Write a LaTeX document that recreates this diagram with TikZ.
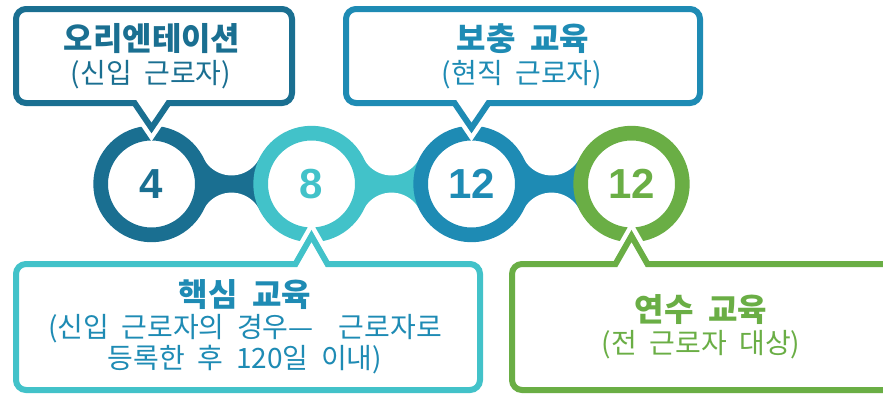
\documentclass[tikz,border=0pt]{standalone}
\usepackage{fontspec}
\setmainfont{Liberation Sans}
\newfontfamily\krfont[WordSpace=2]{Noto Sans CJK KR}
\usetikzlibrary{calc,backgrounds}
\definecolor{cnavy}{HTML}{1A6F91}
\definecolor{cteal}{HTML}{42C2C9}
\definecolor{cblue}{HTML}{1E8BB4}
\definecolor{cgreen}{HTML}{6AAE45}
\tikzset{
  ring/.style={circle, draw=#1, line width=14.7pt, fill=white, minimum size=101.7pt,
    inner sep=0pt, text=#1, font=\bfseries\fontsize{42}{42}\selectfont},
  bubble/.style={draw=#1, line width=6pt, fill=white, line join=miter,
    preaction={draw=white, line width=15pt}},
  headtext/.style={text=#1, font=\krfont\bfseries\fontsize{32}{32}\selectfont},
  subtext/.style={text=#1, font=\krfont\fontsize{28}{31}\selectfont, align=center},
  neck/.style={fill=#1},
  cut/.style={fill=white}
}
\begin{document}
\begin{tikzpicture}[x=1pt,y=-1pt]
    \useasboundingbox (0,0) rectangle (883,394);

    \node[ring=cnavy] (c1) at (151.5,184){4};
    \node[ring=cteal] (c2) at (311.5,184){8};
    \node[ring=cblue] (c3) at (471.5,184){12};
    \node[ring=cgreen] (c4) at (631.5,184){12};

    \begin{scope}[on background layer]
      \fill[neck=cnavy] ($(c1)+(52,-26)$) rectangle ($(c2)+(-52,26)$);
      \fill[neck=cteal] ($(c2)+(52,-26)$) rectangle ($(c3)+(-52,26)$);
      \fill[neck=cblue] ($(c3)+(52,-26)$) rectangle ($(c4)+(-52,26)$);
      \fill[cut] ($(c1)!.5!(c2)+(0,-40)$) circle[radius=31.4pt];
      \fill[cut] ($(c1)!.5!(c2)+(0,40)$) circle[radius=31.4pt];
      \fill[cut] ($(c2)!.5!(c3)+(0,-40)$) circle[radius=31.4pt];
      \fill[cut] ($(c2)!.5!(c3)+(0,40)$) circle[radius=31.4pt];
      \fill[cut] ($(c3)!.5!(c4)+(0,-40)$) circle[radius=31.4pt];
      \fill[cut] ($(c3)!.5!(c4)+(0,40)$) circle[radius=31.4pt];
    \end{scope}

    \draw[bubble=cnavy] ($(c1)+(0,-56)$) -- (134.5,103) -- (100,103) [rounded corners=10pt]
      -- (16,103) -- (16,9) -- (292,9) -- (292,103) -- (200,103) [sharp corners] -- (168.5,103) -- cycle;
    \draw[bubble=cblue] ($(c3)+(0,-56)$) -- (454.5,103) -- (420,103) [rounded corners=10pt]
      -- (346,103) -- (346,9) -- (700,9) -- (700,103) -- (600,103) [sharp corners] -- (488.5,103) -- cycle;
    \draw[bubble=cteal] ($(c2)+(0,52)$) -- (295.5,264) -- (270,264) [rounded corners=10pt]
      -- (16,264) -- (16,390) -- (480,390) -- (480,264) -- (400,264) [sharp corners] -- (327.5,264) -- cycle;
    \draw[bubble=cgreen] ($(c4)+(0,52)$) -- (615.5,264) -- (590,264) [rounded corners=10pt]
      -- (512,264) -- (512,390) -- (895,390) -- (895,264) -- (750,264) [sharp corners] -- (647.5,264) -- cycle;

    \node[headtext=cnavy] (t1) at (152,39){오리엔테이션};
    \node[subtext=cnavy] (s1) at (151,75){(신입 근로자)};
    \node[headtext=cblue] (t2) at (523,39){보충 교육};
    \node[subtext=cblue] (s2) at (522,75){(현직 근로자)};
    \node[headtext=cblue] (t3) at (245,295){핵심 교육};
    \node[subtext=cblue] (s3) at (245,344.5){(신입 근로자의 경우—\ \ 근로자로\\등록한 후 120일 이내)};
    \node[headtext=cgreen] (t4) at (701,310){연수 교육};
    \node[subtext=cgreen] (s4) at (701,345){(전 근로자 대상)};
  \end{tikzpicture}
\end{document}
